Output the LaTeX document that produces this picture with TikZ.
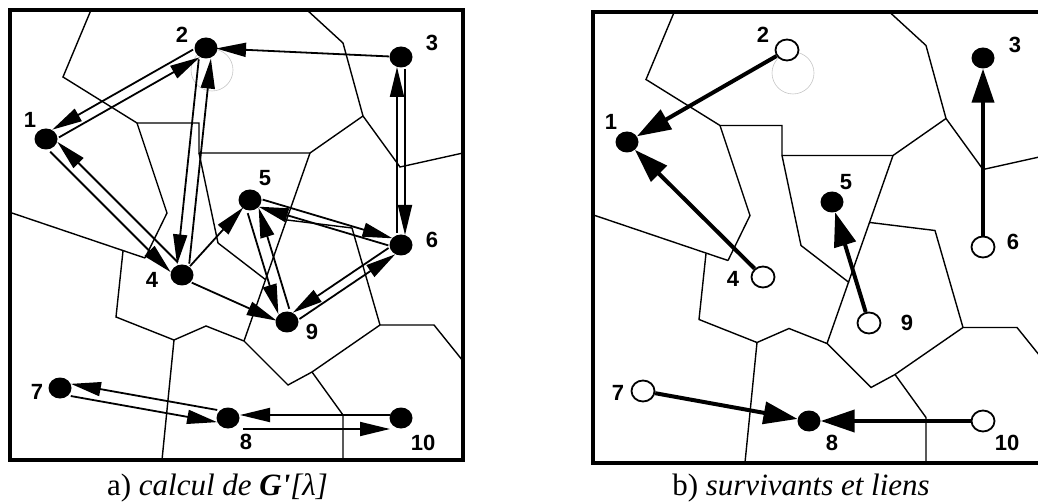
\documentclass[tikz,border=0pt]{standalone}
\usepackage{fontspec}
\setmainfont{Liberation Serif}
\newfontfamily\etiq{Liberation Sans}
\usetikzlibrary{arrows.meta,calc,shapes.geometric}

\tikzset{
  cellule/.style={line width=1.4pt},
  cadre/.style={line width=4pt},
  plein/.style={ellipse, fill=black, inner sep=0pt, minimum width=23pt, minimum height=21pt},
  vide/.style={ellipse, draw=black, fill=white, line width=1.8pt, inner sep=0pt, minimum width=23pt, minimum height=21pt},
  num/.style={inner sep=0pt, font=\etiq\bfseries\fontsize{22}{22}\selectfont},
  fleche/.style={line width=1.8pt, -{Triangle[length=30pt,width=14pt]}, shorten >=10pt, shorten <=12pt},
  lien/.style={line width=4pt, -{Triangle[length=34pt,width=22pt]}},
  trace/.style={gray!45, line width=0.6pt},
  legende/.style={inner sep=0pt, anchor=base, font=\fontsize{31}{31}\selectfont}
}

% arc orienté, décalé de #4 sur sa droite
\newcommand{\sens}[4][]{\draw[fleche,#1] ($(#2)!#4!-90:(#3)$) -- ($(#3)!#4!90:(#2)$);}

% cadre et cellules (panneau a)
\newcommand{\cellules}{%
  \draw[cellule] (91,10) -- (63,77) -- (137,123) -- (199,123) -- (199,153) -- (310,153)
    -- (363,116) -- (343,43) -- (307,10);
  \draw[cellule] (363,116) -- (400,167) -- (463,153);
  \draw[cellule] (137,123) -- (167,213) -- (145,258);
  \draw[cellule] (9,212) -- (145,258);
  \draw[cellule] (123,251) -- (116,317) -- (174,340) -- (206,326) -- (244,341) -- (288,385)
    -- (312,372) -- (380,325) -- (434,325) -- (463,361);
  \draw[cellule] (174,340) -- (162,460);
  \draw[cellule] (312,372) -- (343,415) -- (343,460);
  \draw[cellule] (244,341) -- (310,153);
  \draw[cellule] (199,153) -- (218,243) -- (266,280);
  \draw[cellule] (287,220) -- (352,228) -- (380,325);
  \draw[cadre] (9.5,10) rectangle (462.5,460);
}

\begin{document}
\begin{tikzpicture}[x=1pt,y=-1pt]
  \useasboundingbox (0,0) rectangle (1038,502);

  % a) calcul de G'
  \cellules
  \draw[trace] (212,70) circle (21);

  \node[plein] (a1) at (46,139) {};
  \node[plein] (a2) at (206,48) {};
  \node[plein] (a3) at (401,57) {};
  \node[plein] (a4) at (182,275) {};
  \node[plein] (a5) at (250,200) {};
  \node[plein] (a6) at (401,245) {};
  \node[plein] (a7) at (60,388) {};
  \node[plein] (a8) at (228,418) {};
  \node[plein] (a9) at (287,322) {};
  \node[plein] (a10) at (401,418) {};

  \node[num] (na1) at (30,120) {1};
  \node[num] (na2) at (182,35) {2};
  \node[num] (na3) at (432,43) {3};
  \node[num] (na4) at (152,280) {4};
  \node[num] (na5) at (265,178) {5};
  \node[num] (na6) at (432,240) {6};
  \node[num] (na7) at (37,392) {7};
  \node[num] (na8) at (246,442) {8};
  \node[num] (na9) at (312,332) {9};
  \node[num] (na10) at (423,443) {10};

  % arcs dans les deux sens
  \sens{a2}{a1}{5pt} \sens{a1}{a2}{5pt}
  \sens{a2}{a4}{6pt} \sens{a4}{a2}{6pt}
  \sens{a1}{a4}{6pt} \sens{a4}{a1}{6pt}
  \sens{a5}{a9}{6pt} \sens{a9}{a5}{6pt}
  \sens{a5}{a6}{-4pt} \sens{a6}{a5}{-4pt}
  \sens{a6}{a9}{4.5pt} \sens{a9}{a6}{4.5pt}
  \sens{a6}{a3}{-4pt} \sens{a3}{a6}{-4pt}
  \sens{a8}{a7}{6pt} \sens{a7}{a8}{6pt}
  \sens[shorten <=11pt, shorten >=12pt]{a10}{a8}{3pt}
  \sens[shorten <=15pt, shorten >=11pt]{a8}{a10}{11pt}
  % arcs simples
  \sens{a3}{a2}{0pt}
  \sens{a4}{a5}{0pt}
  \sens{a4}{a9}{3pt}

  \node[legende] (capa) at (217.5,495) {a) \textit{calcul de \textbf{G\textquotesingle}[λ]}};

  % b) survivants et liens
  \begin{scope}[shift={(583,2.5)}]
    \cellules
  \end{scope}
  \draw[trace] (793,73) circle (21);

  \node[plein] (b1) at (627,142) {};
  \node[vide] (b2) at (787,50) {};
  \node[plein] (b3) at (983,58) {};
  \node[vide] (b4) at (763,277) {};
  \node[plein] (b5) at (832,202) {};
  \node[vide] (b6) at (983,247) {};
  \node[vide] (b7) at (643,391) {};
  \node[plein] (b8) at (809,421) {};
  \node[vide] (b9) at (869,323) {};
  \node[vide] (b10) at (983,421) {};

  \node[num] (nb1) at (611,122) {1};
  \node[num] (nb2) at (763,35) {2};
  \node[num] (nb3) at (1015,45) {3};
  \node[num] (nb4) at (733,279) {4};
  \node[num] (nb5) at (846,182) {5};
  \node[num] (nb6) at (1013,242) {6};
  \node[num] (nb7) at (618,393) {7};
  \node[num] (nb8) at (832,443) {8};
  \node[num] (nb9) at (907,323) {9};
  \node[num] (nb10) at (1007,443) {10};

  \draw[lien] (b2) -- (b1);
  \draw[lien] (b4) -- (b1);
  \draw[lien] (b9) -- (b5);
  \draw[lien] (b6) -- (b3);
  \draw[lien] (b7) -- (b8);
  \draw[lien] (b10) -- (b8);

  \node[legende] (capb) at (801,495) {b) \textit{survivants et liens}};
\end{tikzpicture}
\end{document}
